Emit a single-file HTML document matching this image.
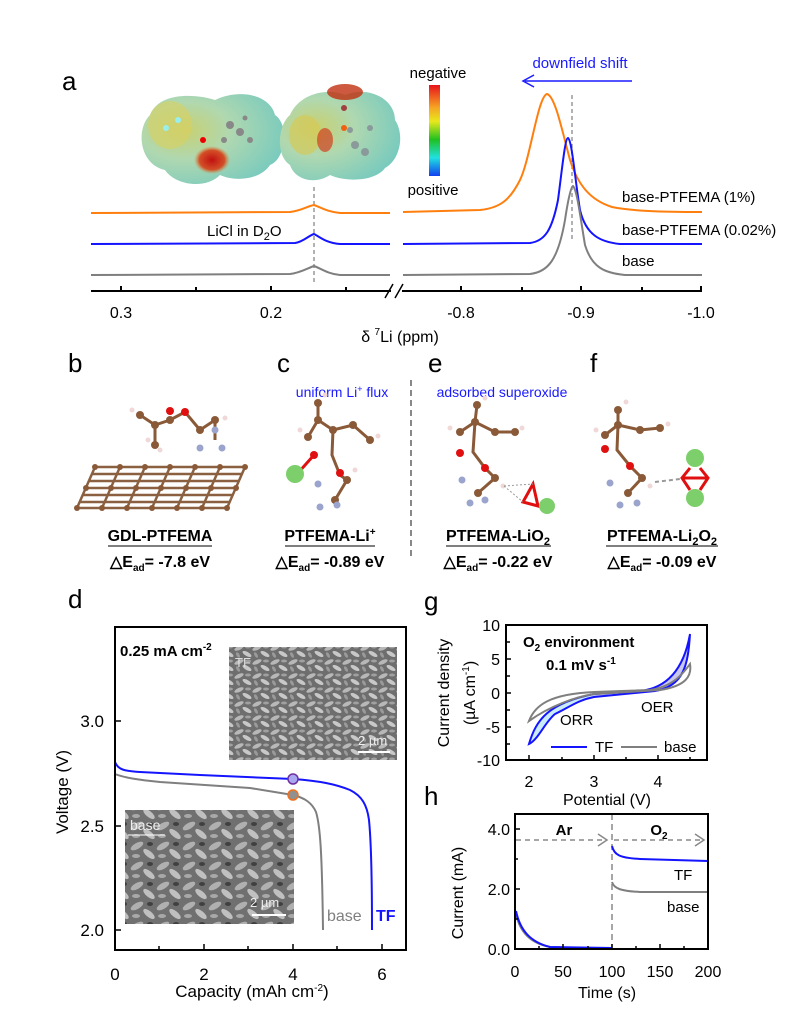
<!DOCTYPE html>
<html><head><meta charset="utf-8"><style>
html,body{margin:0;padding:0;background:#fff}
svg{display:block;font-family:"Liberation Sans",Arial,sans-serif}
</style></head><body>
<svg width="800" height="1017" viewBox="0 0 800 1017" xmlns="http://www.w3.org/2000/svg">
<defs>
<linearGradient id="cb" x1="0" y1="0" x2="0" y2="1">
<stop offset="0" stop-color="#e8141c"/><stop offset="0.25" stop-color="#f5a623"/><stop offset="0.4" stop-color="#e8e81c"/><stop offset="0.6" stop-color="#20c020"/><stop offset="0.8" stop-color="#20e0e0"/><stop offset="1" stop-color="#1040f0"/></linearGradient>
<radialGradient id="m1" cx="0.3" cy="0.4" r="0.8"><stop offset="0" stop-color="#c8d070"/><stop offset="0.4" stop-color="#b0d8b0"/><stop offset="1" stop-color="#70c8c0"/></radialGradient>
<radialGradient id="red" cx="0.5" cy="0.5" r="0.5"><stop offset="0" stop-color="#c01010"/><stop offset="0.7" stop-color="#d84018" stop-opacity="0.9"/><stop offset="1" stop-color="#e08030" stop-opacity="0"/></radialGradient>
<pattern id="sem" width="18" height="14" patternUnits="userSpaceOnUse">
<rect width="18" height="14" fill="#6e6e6e"/>
<ellipse cx="5" cy="4" rx="5" ry="2" fill="#b8b8b8" transform="rotate(-25 5 4)"/>
<ellipse cx="13" cy="10" rx="5" ry="2" fill="#c8c8c8" transform="rotate(30 13 10)"/>
<ellipse cx="14" cy="3" rx="3" ry="1.5" fill="#a0a0a0"/>
<ellipse cx="4" cy="11" rx="3" ry="1.5" fill="#9a9a9a" transform="rotate(60 4 11)"/>
</pattern>
<pattern id="sem2" width="26" height="20" patternUnits="userSpaceOnUse">
<rect width="26" height="20" fill="#707070"/>
<ellipse cx="7" cy="6" rx="7" ry="3" fill="#b0b0b0" transform="rotate(-30 7 6)"/>
<ellipse cx="19" cy="14" rx="7" ry="3" fill="#c0c0c0" transform="rotate(40 19 14)"/>
<ellipse cx="20" cy="4" rx="3" ry="2" fill="#404040"/>
<ellipse cx="6" cy="16" rx="4" ry="2" fill="#a8a8a8"/>
</pattern>
</defs>

<!-- ===== Panel a ===== -->
<text x="62" y="90" font-size="26">a</text>
<g>
<path d="M150,115 C160,90 200,95 215,100 C240,88 270,95 275,115 C290,125 285,160 270,165 C260,180 235,182 220,175 C205,190 175,185 165,170 C140,165 135,130 150,115Z" fill="url(#m1)"/>
<ellipse cx="212" cy="160" rx="18" ry="14" fill="url(#red)"/>
<ellipse cx="170" cy="125" rx="22" ry="24" fill="#d8d060" opacity="0.6"/>
<g fill="#888"><circle cx="230" cy="125" r="4"/><circle cx="240" cy="132" r="4"/><circle cx="250" cy="140" r="3"/><circle cx="224" cy="140" r="3"/><circle cx="245" cy="118" r="2.5"/></g>
<g fill="#9ee"><circle cx="178" cy="120" r="3"/><circle cx="166" cy="128" r="3"/></g>
<circle cx="203" cy="140" r="3" fill="#e00"/>
<path d="M290,115 C300,92 330,88 345,95 C370,85 395,100 395,120 C405,135 400,160 385,168 C375,182 345,182 330,175 C315,185 295,180 290,165 C275,155 278,125 290,115Z" fill="url(#m1)"/>
<ellipse cx="345" cy="92" rx="18" ry="8" fill="#c03010" opacity="0.8"/>
<ellipse cx="305" cy="135" rx="16" ry="20" fill="#d8c850" opacity="0.6"/>
<ellipse cx="325" cy="140" rx="8" ry="12" fill="#d04020" opacity="0.7"/>
<g fill="#8a9a9a"><circle cx="355" cy="145" r="4"/><circle cx="365" cy="152" r="4"/><circle cx="350" cy="130" r="3"/><circle cx="370" cy="128" r="3"/></g>
<circle cx="344" cy="108" r="3" fill="#a04040"/>
<circle cx="344" cy="128" r="3" fill="#f06010"/>
</g>
<rect x="429" y="85" width="11" height="91" fill="url(#cb)"/>
<text x="438" y="78" font-size="15" text-anchor="middle">negative</text>
<text x="433" y="195" font-size="15" text-anchor="middle">positive</text>
<text x="580" y="68" font-size="15" fill="#1a1aff" text-anchor="middle">downfield shift</text>
<line x1="525" y1="81" x2="632" y2="81" stroke="#1a1aff" stroke-width="1.5"/>
<path d="M534,75 L523,81 L534,87" fill="none" stroke="#1a1aff" stroke-width="1.5"/>
<line x1="314" y1="187" x2="314" y2="285" stroke="#888" stroke-width="1.3" stroke-dasharray="4,3"/>
<line x1="572" y1="95" x2="572" y2="240" stroke="#888" stroke-width="1.3" stroke-dasharray="4,3"/>
<path d="M91,213 L290,212 C300,211 308,206 314,205 C320,207 328,212 340,213 L390,213" fill="none" stroke="#ff7f0e" stroke-width="2"/>
<path d="M91,244 L295,243 C303,242 308,236 314,234 C320,237 326,243 340,244 L390,244" fill="none" stroke="#1414ff" stroke-width="2"/>
<path d="M91,275 L290,274 C300,273 308,268 314,266 C320,268 328,274 340,275 L390,275" fill="none" stroke="#7f7f7f" stroke-width="2"/>
<path d="M403,212 L480,210 C500,208 510,200 520,180 C530,160 538,96 547,94 C555,96 562,130 570,160 C578,185 590,200 612,207 C632,211 660,212 702,212" fill="none" stroke="#ff7f0e" stroke-width="2"/>
<path d="M403,244 L530,243 C545,241 552,230 558,200 C562,170 565,138 568,138 C572,140 575,180 580,210 C586,235 600,242 620,244 L702,244" fill="none" stroke="#1414ff" stroke-width="2"/>
<path d="M403,275 L530,274 C548,272 558,260 565,220 C568,200 571,186 573,186 C577,190 580,215 585,245 C592,268 605,273 625,275 L702,275" fill="none" stroke="#7f7f7f" stroke-width="2"/>
<text x="207" y="236" font-size="15">LiCl in D<tspan font-size="11" dy="4">2</tspan><tspan dy="-4">O</tspan></text>
<text x="622" y="202" font-size="15">base-PTFEMA (1%)</text>
<text x="622" y="235" font-size="15">base-PTFEMA (0.02%)</text>
<text x="622" y="266" font-size="15">base</text>
<g stroke="#000" stroke-width="2">
<line x1="91" y1="291" x2="391" y2="291"/><line x1="402" y1="291" x2="702" y2="291"/>
<line x1="121" y1="291" x2="121" y2="286"/><line x1="196" y1="291" x2="196" y2="287"/><line x1="271" y1="291" x2="271" y2="286"/><line x1="346" y1="291" x2="346" y2="287"/>
<line x1="461" y1="291" x2="461" y2="286"/><line x1="522" y1="291" x2="522" y2="287"/><line x1="581" y1="291" x2="581" y2="286"/><line x1="642" y1="291" x2="642" y2="287"/><line x1="701" y1="291" x2="701" y2="286"/>
<line x1="385" y1="298" x2="393" y2="284" stroke-width="1.5"/><line x1="395" y1="298" x2="403" y2="284" stroke-width="1.5"/>
</g>
<g font-size="16" text-anchor="middle">
<text x="121" y="318">0.3</text><text x="271" y="318">0.2</text><text x="461" y="318">-0.8</text><text x="581" y="318">-0.9</text><text x="701" y="318">-1.0</text>
</g>
<text x="400" y="342" font-size="16" text-anchor="middle">δ <tspan font-size="10" dy="-7">7</tspan><tspan dy="7">Li (ppm)</tspan></text>

<!-- ===== Panels b,c,e,f ===== -->
<g font-size="26"><text x="68" y="372">b</text><text x="277" y="372">c</text><text x="428" y="372">e</text><text x="590" y="372">f</text></g>
<text x="342" y="397" font-size="14" fill="#1a1aff" text-anchor="middle">uniform Li<tspan font-size="9" dy="-5">+</tspan><tspan dy="5"> flux</tspan></text>
<text x="502" y="397" font-size="14" fill="#1a1aff" text-anchor="middle">adsorbed superoxide</text>
<line x1="411" y1="380" x2="411" y2="558" stroke="#888" stroke-width="2" stroke-dasharray="6,4"/>
<g stroke="#8a6040" stroke-width="2.5" fill="none">
<path d="M95,467 L245,467 M92,474 L242,474 M89,481 L239,481 M86,488 L236,488 M83,495 L233,495 M80,502 L230,502 M77,508 L227,508"/>
<path d="M95,467 L77,508 M120,467 L102,508 M145,467 L127,508 M170,467 L152,508 M195,467 L177,508 M220,467 L202,508 M245,467 L227,508"/>
</g>
<g fill="#8a5a38">
<circle cx="95" cy="467" r="3"/><circle cx="120" cy="467" r="3"/><circle cx="145" cy="467" r="3"/><circle cx="170" cy="467" r="3"/><circle cx="195" cy="467" r="3"/><circle cx="220" cy="467" r="3"/><circle cx="245" cy="467" r="3"/>
<circle cx="86" cy="488" r="3"/><circle cx="111" cy="488" r="3"/><circle cx="136" cy="488" r="3"/><circle cx="161" cy="488" r="3"/><circle cx="186" cy="488" r="3"/><circle cx="211" cy="488" r="3"/><circle cx="236" cy="488" r="3"/>
<circle cx="77" cy="508" r="3"/><circle cx="102" cy="508" r="3"/><circle cx="127" cy="508" r="3"/><circle cx="152" cy="508" r="3"/><circle cx="177" cy="508" r="3"/><circle cx="202" cy="508" r="3"/><circle cx="227" cy="508" r="3"/>
</g>
<!-- molecule b -->
<g stroke="#8a5a38" stroke-width="3" fill="none"><path d="M140,415 L155,425 L170,420 L185,412 L200,430 L215,420 L215,440 M155,425 L155,445"/></g>
<g fill="#8a5a38"><circle cx="140" cy="415" r="4"/><circle cx="155" cy="425" r="4"/><circle cx="170" cy="420" r="4"/><circle cx="200" cy="430" r="4"/><circle cx="215" cy="420" r="4"/><circle cx="155" cy="445" r="4"/></g>
<g fill="#f0d8d8"><circle cx="132" cy="410" r="2.5"/><circle cx="148" cy="440" r="2.5"/><circle cx="160" cy="450" r="2.5"/><circle cx="225" cy="418" r="2.5"/></g>
<circle cx="170" cy="411" r="4" fill="#e01010"/><circle cx="185" cy="412" r="4" fill="#e01010"/>
<g fill="#9aa4cc"><circle cx="215" cy="430" r="3.5"/><circle cx="200" cy="448" r="3.5"/><circle cx="222" cy="448" r="3.5"/></g>
<!-- molecule c -->
<g stroke="#8a5a38" stroke-width="3" fill="none"><path d="M318,403 L318,420 L333,430 L353,425 L370,440 M333,430 L332,455 L340,475 L347,480 L335,500 M318,420 L308,437"/></g>
<line x1="314" y1="455" x2="298" y2="473" stroke="#e01010" stroke-width="3"/>
<g fill="#8a5a38"><circle cx="318" cy="403" r="4"/><circle cx="318" cy="420" r="4"/><circle cx="333" cy="430" r="4"/><circle cx="353" cy="425" r="4"/><circle cx="370" cy="440" r="4"/><circle cx="308" cy="437" r="4"/><circle cx="347" cy="480" r="4"/><circle cx="335" cy="500" r="4"/></g>
<g fill="#f0d8d8"><circle cx="325" cy="395" r="2.5"/><circle cx="300" cy="430" r="2.5"/><circle cx="378" cy="436" r="2.5"/><circle cx="355" cy="470" r="2.5"/></g>
<circle cx="314" cy="455" r="4" fill="#e01010"/><circle cx="340" cy="473" r="4" fill="#e01010"/>
<circle cx="295" cy="474" r="9" fill="#7ccf6a"/>
<g fill="#9aa4cc"><circle cx="318" cy="484" r="3.5"/><circle cx="320" cy="507" r="3.5"/><circle cx="337" cy="505" r="3.5"/></g>
<!-- molecule e -->
<g stroke="#8a5a38" stroke-width="3" fill="none"><path d="M477,405 L475,422 L460,432 M475,422 L495,432 L515,432 M475,422 L473,452 L485,468 L495,478 L478,493"/></g>
<g fill="#8a5a38"><circle cx="477" cy="405" r="4"/><circle cx="475" cy="422" r="4"/><circle cx="460" cy="432" r="4"/><circle cx="495" cy="432" r="4"/><circle cx="515" cy="432" r="4"/><circle cx="495" cy="478" r="4"/><circle cx="478" cy="493" r="4"/></g>
<g fill="#f0d8d8"><circle cx="450" cy="428" r="2.5"/><circle cx="485" cy="398" r="2.5"/><circle cx="522" cy="428" r="2.5"/><circle cx="503" cy="486" r="2.5"/></g>
<circle cx="460" cy="453" r="4" fill="#e01010"/><circle cx="485" cy="468" r="4" fill="#e01010"/>
<g fill="#9aa4cc"><circle cx="462" cy="480" r="3.5"/><circle cx="470" cy="503" r="3.5"/><circle cx="485" cy="500" r="3.5"/></g>
<path d="M533,484 L523,502 L538,506 Z" fill="none" stroke="#e01010" stroke-width="3"/>
<circle cx="547" cy="506" r="8" fill="#7ccf6a"/>
<path d="M504,486 L533,484 M504,486 L523,502" stroke="#999" stroke-dasharray="2,2" fill="none"/>
<!-- molecule f -->
<g stroke="#8a5a38" stroke-width="3" fill="none"><path d="M618,410 L618,425 L605,435 M618,425 L640,430 L660,428 M618,425 L617,450 L630,466 L642,478 L628,493"/></g>
<g fill="#8a5a38"><circle cx="618" cy="410" r="4"/><circle cx="618" cy="425" r="4"/><circle cx="605" cy="435" r="4"/><circle cx="640" cy="430" r="4"/><circle cx="660" cy="428" r="4"/><circle cx="642" cy="478" r="4"/><circle cx="628" cy="493" r="4"/></g>
<g fill="#f0d8d8"><circle cx="596" cy="430" r="2.5"/><circle cx="626" cy="402" r="2.5"/><circle cx="668" cy="424" r="2.5"/><circle cx="650" cy="486" r="2.5"/></g>
<circle cx="605" cy="449" r="4" fill="#e01010"/><circle cx="630" cy="466" r="4" fill="#e01010"/>
<g fill="#9aa4cc"><circle cx="610" cy="483" r="3.5"/><circle cx="620" cy="505" r="3.5"/><circle cx="637" cy="503" r="3.5"/></g>
<line x1="655" y1="482" x2="680" y2="479" stroke="#999" stroke-width="2" stroke-dasharray="4,3"/>
<path d="M682,478 L708,478 M690,468 L682,478 L690,490 M700,468 L708,478 L700,490" fill="none" stroke="#e01010" stroke-width="3"/>
<circle cx="695" cy="458" r="9" fill="#7ccf6a"/><circle cx="695" cy="498" r="9" fill="#7ccf6a"/>
<g font-size="16" font-weight="bold" text-anchor="middle">
<text x="160" y="541">GDL-PTFEMA</text>
<text x="330" y="541">PTFEMA-Li<tspan font-size="10" dy="-6">+</tspan></text>
<text x="498" y="541">PTFEMA-LiO<tspan font-size="11" dy="4">2</tspan></text>
<text x="662" y="541">PTFEMA-Li<tspan font-size="11" dy="4">2</tspan><tspan dy="-4">O</tspan><tspan font-size="11" dy="4">2</tspan></text>
</g>
<g stroke="#333" stroke-width="1.3"><line x1="108" y1="546" x2="212" y2="546"/><line x1="285" y1="546" x2="375" y2="546"/><line x1="446" y1="546" x2="551" y2="546"/><line x1="606" y1="546" x2="718" y2="546"/></g>
<g font-size="16" font-weight="bold" text-anchor="middle">
<text x="160" y="567">△E<tspan font-size="10" dy="4">ad</tspan><tspan dy="-4">= -7.8 eV</tspan></text>
<text x="330" y="567">△E<tspan font-size="10" dy="4">ad</tspan><tspan dy="-4">= -0.89 eV</tspan></text>
<text x="498" y="567">△E<tspan font-size="10" dy="4">ad</tspan><tspan dy="-4">= -0.22 eV</tspan></text>
<text x="662" y="567">△E<tspan font-size="10" dy="4">ad</tspan><tspan dy="-4">= -0.09 eV</tspan></text>
</g>

<!-- ===== Panel d ===== -->
<text x="68" y="608" font-size="26">d</text>
<rect x="229" y="647" width="168" height="113" fill="url(#sem)"/>
<rect x="125" y="810" width="169" height="114" fill="url(#sem2)"/>
<text x="235" y="667" font-size="13" fill="#ddd">TF</text>
<text x="358" y="745" font-size="13" fill="#eee">2 µm</text><line x1="358" y1="752" x2="390" y2="752" stroke="#fff" stroke-width="2"/>
<text x="130" y="830" font-size="14" fill="#eee">base</text><line x1="128" y1="835" x2="165" y2="835" stroke="#fff"/>
<text x="250" y="907" font-size="13" fill="#eee">2 µm</text><line x1="252" y1="915" x2="286" y2="915" stroke="#fff" stroke-width="2"/>
<path d="M115,697 L115,762 C118,770 125,771 140,772 L200,775 L293,779 C320,781 335,784 350,790 C362,796 367,805 369,820 C371,840 372,880 372,930" fill="none" stroke="#1414ff" stroke-width="2"/>
<path d="M115,774 C125,778 140,780 160,782 L250,788 L293,795 C305,798 312,803 316,812 C320,825 322,850 323,930" fill="none" stroke="#7f7f7f" stroke-width="2"/>
<circle cx="293" cy="779" r="5" fill="#a8a8f0" stroke="#7030a0" stroke-width="1.5"/>
<circle cx="293" cy="795" r="5" fill="#909090" stroke="#f07020" stroke-width="1.5"/>
<text x="327" y="921" font-size="16" fill="#7f7f7f">base</text>
<text x="376" y="921" font-size="16" fill="#1414ff" font-weight="bold">TF</text>
<text x="120" y="656" font-size="15" font-weight="bold">0.25 mA cm<tspan font-size="10" dy="-6">-2</tspan></text>
<rect x="115" y="627" width="291" height="323" fill="none" stroke="#000" stroke-width="2"/>
<g stroke="#000" stroke-width="1.5">
<line x1="115" y1="721" x2="121" y2="721"/><line x1="115" y1="826" x2="121" y2="826"/><line x1="115" y1="930" x2="121" y2="930"/>
<line x1="159" y1="950" x2="159" y2="946"/><line x1="204" y1="950" x2="204" y2="944"/><line x1="248" y1="950" x2="248" y2="946"/><line x1="293" y1="950" x2="293" y2="944"/><line x1="337" y1="950" x2="337" y2="946"/><line x1="382" y1="950" x2="382" y2="944"/>
</g>
<g font-size="17" text-anchor="end"><text x="104" y="727">3.0</text><text x="104" y="832">2.5</text><text x="104" y="936">2.0</text></g>
<g font-size="17" text-anchor="middle"><text x="115" y="980">0</text><text x="204" y="980">2</text><text x="293" y="980">4</text><text x="382" y="980">6</text></g>
<text x="252" y="997" font-size="17" text-anchor="middle">Capacity (mAh cm<tspan font-size="10" dy="-6">-2</tspan><tspan dy="6">)</tspan></text>
<text transform="translate(68,792) rotate(-90)" font-size="17" text-anchor="middle">Voltage (V)</text>

<!-- ===== Panel g ===== -->
<text x="424" y="610" font-size="26">g</text>
<path d="M529,744 C536,720 548,703 594,694 L640,691 C668,688 684,668 690,634 C688,665 684,686 655,691 L594,697 C578,700 568,708 555,714 C545,722 538,740 529,744Z" fill="#c8ecf8"/>
<path d="M594,694 L640,691 C668,688 684,668 690,634 C688,665 684,686 655,691 L594,697Z" fill="#c8c8f0"/>
<path d="M529,744 C536,720 548,703 594,694 L640,691 C668,688 684,668 690,634 C688,665 684,686 655,691 L594,697 C578,700 568,708 555,714 C545,722 538,740 529,744Z" fill="none" stroke="#1414ff" stroke-width="2"/>
<path d="M529,721 C535,705 550,694 594,692 L650,690 C675,686 684,672 690,664 C692,676 686,686 660,690 L594,694 C575,697 550,706 529,721Z" fill="none" stroke="#7f7f7f" stroke-width="2"/>
<text x="523" y="647" font-size="15" font-weight="bold">O<tspan font-size="10" dy="4">2</tspan><tspan dy="-4"> environment</tspan></text>
<text x="546" y="670" font-size="15" font-weight="bold">0.1 mV s<tspan font-size="10" dy="-6">-1</tspan></text>
<text x="560" y="725" font-size="15">ORR</text>
<text x="641" y="712" font-size="15">OER</text>
<line x1="551" y1="747" x2="587" y2="747" stroke="#1414ff" stroke-width="2"/><text x="595" y="752" font-size="15">TF</text>
<line x1="621" y1="747" x2="657" y2="747" stroke="#7f7f7f" stroke-width="2"/><text x="664" y="752" font-size="15">base</text>
<rect x="506" y="625" width="201" height="135" fill="none" stroke="#000" stroke-width="2"/>
<g stroke="#000" stroke-width="1.5">
<line x1="506" y1="642" x2="510" y2="642"/><line x1="506" y1="659" x2="511" y2="659"/><line x1="506" y1="676" x2="510" y2="676"/><line x1="506" y1="693" x2="511" y2="693"/><line x1="506" y1="710" x2="510" y2="710"/><line x1="506" y1="727" x2="511" y2="727"/><line x1="506" y1="744" x2="510" y2="744"/>
<line x1="529" y1="760" x2="529" y2="755"/><line x1="562" y1="760" x2="562" y2="757"/><line x1="594" y1="760" x2="594" y2="755"/><line x1="626" y1="760" x2="626" y2="757"/><line x1="658" y1="760" x2="658" y2="755"/><line x1="690" y1="760" x2="690" y2="757"/>
</g>
<g font-size="16" text-anchor="end"><text x="500" y="631">10</text><text x="500" y="665">5</text><text x="500" y="699">0</text><text x="500" y="733">-5</text><text x="500" y="766">-10</text></g>
<g font-size="16" text-anchor="middle"><text x="529" y="787">2</text><text x="594" y="787">3</text><text x="658" y="787">4</text></g>
<text x="607" y="805" font-size="16" text-anchor="middle">Potential (V)</text>
<text transform="translate(449,693) rotate(-90)" font-size="16" text-anchor="middle">Current density</text>
<text transform="translate(475,693) rotate(-90)" font-size="16" text-anchor="middle">(µA cm<tspan font-size="10" dy="-6">-1</tspan><tspan dy="6">)</tspan></text>

<!-- ===== Panel h ===== -->
<text x="424" y="805" font-size="26">h</text>
<line x1="612" y1="814" x2="612" y2="949" stroke="#888" stroke-width="1.5" stroke-dasharray="6,4"/>
<line x1="516" y1="840" x2="606" y2="840" stroke="#888" stroke-width="1.5" stroke-dasharray="5,4"/>
<path d="M598,834 L607,840 L598,846" fill="none" stroke="#888" stroke-width="1.5"/>
<line x1="614" y1="840" x2="703" y2="840" stroke="#888" stroke-width="1.5" stroke-dasharray="5,4"/>
<path d="M695,834 L704,840 L695,846" fill="none" stroke="#888" stroke-width="1.5"/>
<text x="564" y="835" font-size="15" font-weight="bold" text-anchor="middle">Ar</text>
<text x="659" y="835" font-size="15" font-weight="bold" text-anchor="middle">O<tspan font-size="10" dy="4">2</tspan></text>
<path d="M612,846 C614,855 620,858 640,859 L708,861" fill="none" stroke="#1414ff" stroke-width="2"/>
<path d="M612,882 C614,889 622,891 640,892 L708,892" fill="none" stroke="#7f7f7f" stroke-width="2"/>
<path d="M516,914 C520,932 530,943 550,947 L612,949" fill="none" stroke="#7f7f7f" stroke-width="2"/>
<path d="M516,911 C520,930 530,942 550,947 L612,948" fill="none" stroke="#1414ff" stroke-width="2"/>
<text x="674" y="880" font-size="15">TF</text>
<text x="667" y="912" font-size="15">base</text>
<rect x="515" y="814" width="193" height="135" fill="none" stroke="#000" stroke-width="2"/>
<g stroke="#000" stroke-width="1.5">
<line x1="515" y1="829" x2="520" y2="829"/><line x1="515" y1="859" x2="518" y2="859"/><line x1="515" y1="889" x2="520" y2="889"/><line x1="515" y1="919" x2="518" y2="919"/>
<line x1="539" y1="949" x2="539" y2="946"/><line x1="563" y1="949" x2="563" y2="944"/><line x1="588" y1="949" x2="588" y2="946"/><line x1="612" y1="949" x2="612" y2="944"/><line x1="636" y1="949" x2="636" y2="946"/><line x1="660" y1="949" x2="660" y2="944"/><line x1="684" y1="949" x2="684" y2="946"/>
</g>
<g font-size="16" text-anchor="end"><text x="510" y="835">4.0</text><text x="510" y="895">2.0</text><text x="510" y="955">0.0</text></g>
<g font-size="16" text-anchor="middle"><text x="515" y="977">0</text><text x="563" y="977">50</text><text x="612" y="977">100</text><text x="660" y="977">150</text><text x="708" y="977">200</text></g>
<text x="607" y="998" font-size="16" text-anchor="middle">Time (s)</text>
<text transform="translate(463,893) rotate(-90)" font-size="16" text-anchor="middle">Current (mA)</text>
</svg>
</body></html>
